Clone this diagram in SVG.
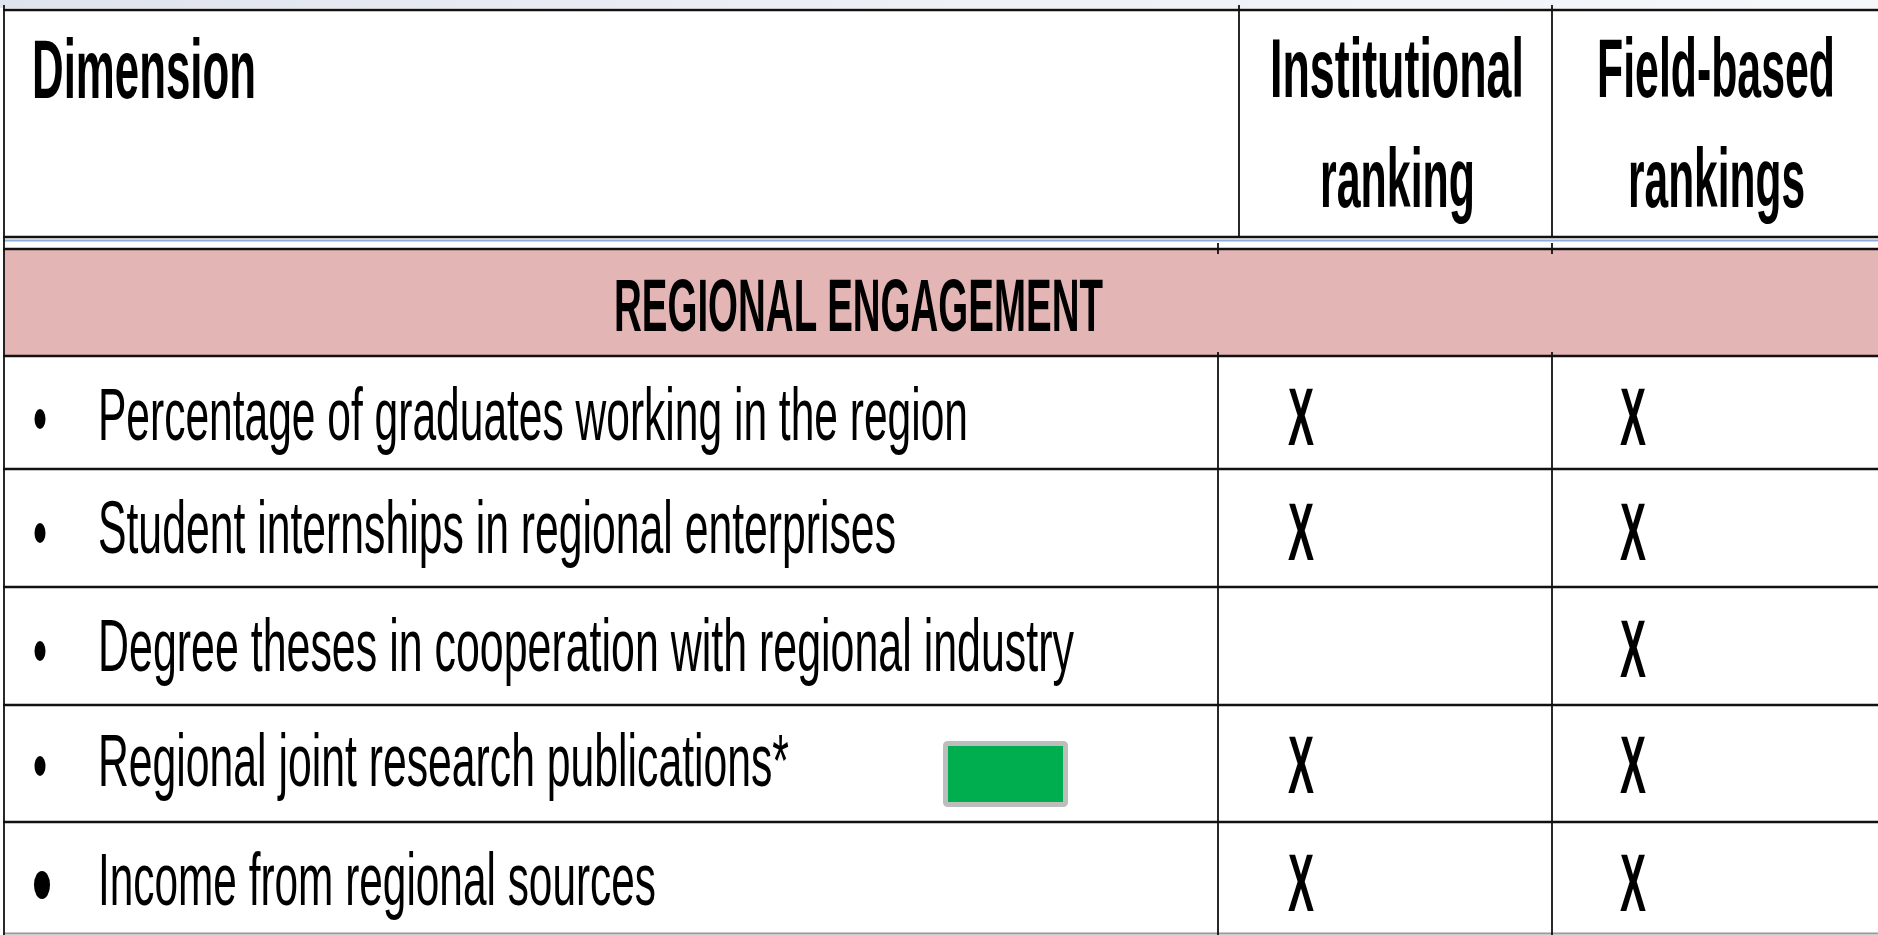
<svg xmlns="http://www.w3.org/2000/svg" width="1878" height="935" viewBox="0 0 1878 935">
  <defs>
    <linearGradient id="topfade" x1="0" y1="0" x2="1" y2="0">
      <stop offset="0" stop-color="#dfe3ee"/>
      <stop offset="0.5" stop-color="#eef0f6"/>
      <stop offset="1" stop-color="#f6f7fb"/>
    </linearGradient>
    <style>
      text { font-family: "Liberation Sans", Arial, sans-serif; fill: #000; }
      .hd { font-weight: bold; font-size: 50px; }
      .band { font-weight: bold; font-size: 46px; }
      .body { font-size: 46px; }
      .mark { font-weight: bold; font-size: 50px; }
      .rule { stroke: #111; stroke-width: 2.5; fill: none; }
      .vrule { stroke: #111; stroke-width: 1.8; fill: none; }
      .bul { fill: #000; }
    </style>
  </defs>

  <rect x="0" y="0" width="1878" height="935" fill="#ffffff"/>
  <rect x="0" y="0" width="1878" height="8" fill="url(#topfade)"/>

  <!-- Band -->
  <g id="band">
    <rect x="3" y="249" width="1875" height="107" fill="#e4b5b5"/>
    <text class="band" transform="translate(614,331) scale(1,1.6)" x="0" y="0" textLength="489" lengthAdjust="spacingAndGlyphs">REGIONAL ENGAGEMENT</text>
  </g>

  <!-- Grid lines (connectors) -->
  <g id="connectors">
    <line class="rule" x1="3" y1="10" x2="1878" y2="10"/>
    <line class="rule" x1="3" y1="237" x2="1878" y2="237"/>
    <line x1="3" y1="240.5" x2="1878" y2="240.5" stroke="#8eaee0" stroke-width="2"/>
    <line class="rule" x1="3" y1="249" x2="1878" y2="249"/>
    <line class="rule" x1="3" y1="356" x2="1878" y2="356"/>
    <line class="rule" x1="3" y1="469" x2="1878" y2="469"/>
    <line class="rule" x1="3" y1="587" x2="1878" y2="587"/>
    <line class="rule" x1="3" y1="705" x2="1878" y2="705"/>
    <line class="rule" x1="3" y1="822" x2="1878" y2="822"/>
    <line x1="3" y1="933.5" x2="1878" y2="933.5" stroke="#9a9a9a" stroke-width="2"/>
    <line class="vrule" x1="4" y1="5" x2="4" y2="935"/>
    <line class="vrule" x1="1239" y1="5" x2="1239" y2="237"/>
    <line class="vrule" x1="1552" y1="5" x2="1552" y2="237"/>
    <line class="vrule" x1="1218" y1="243" x2="1218" y2="254"/>
    <line class="vrule" x1="1552" y1="243" x2="1552" y2="254"/>
    <line class="vrule" x1="1218" y1="352" x2="1218" y2="356"/>
    <line class="vrule" x1="1552" y1="352" x2="1552" y2="356"/>
    <line class="vrule" x1="1218" y1="356" x2="1218" y2="935"/>
    <line class="vrule" x1="1552" y1="356" x2="1552" y2="935"/>
  </g>

  <!-- Header -->
  <g id="hdr-dimension">
    <text class="hd" transform="translate(32,98) scale(1,1.66)" x="0" y="0" textLength="224" lengthAdjust="spacingAndGlyphs">Dimension</text>
  </g>
  <g id="hdr-institutional">
    <text class="hd" transform="translate(1270,97) scale(1,1.66)" x="0" y="0" textLength="254" lengthAdjust="spacingAndGlyphs">Institutional</text>
    <text class="hd" transform="translate(1320,207) scale(1,1.66)" x="0" y="0" textLength="155" lengthAdjust="spacingAndGlyphs">ranking</text>
  </g>
  <g id="hdr-field">
    <text class="hd" transform="translate(1597,97) scale(1,1.66)" x="0" y="0" textLength="238" lengthAdjust="spacingAndGlyphs">Field-based</text>
    <text class="hd" transform="translate(1628,207) scale(1,1.66)" x="0" y="0" textLength="177" lengthAdjust="spacingAndGlyphs">rankings</text>
  </g>

  <!-- Rows -->
  <g id="row1">
    <ellipse class="bul" cx="40" cy="419" rx="5.5" ry="10"/>
    <text class="body" transform="translate(98,440) scale(1,1.6)" x="0" y="0" textLength="870" lengthAdjust="spacingAndGlyphs">Percentage of graduates working in the region</text>
    <text class="mark" transform="translate(1288,445) scale(1,1.62)" x="0" y="0" textLength="26" lengthAdjust="spacingAndGlyphs">X</text>
    <text class="mark" transform="translate(1620,445) scale(1,1.62)" x="0" y="0" textLength="26" lengthAdjust="spacingAndGlyphs">X</text>
  </g>
  <g id="row2">
    <ellipse class="bul" cx="40" cy="533" rx="5.5" ry="10"/>
    <text class="body" transform="translate(98,553) scale(1,1.6)" x="0" y="0" textLength="798" lengthAdjust="spacingAndGlyphs">Student internships in regional enterprises</text>
    <text class="mark" transform="translate(1288,560) scale(1,1.62)" x="0" y="0" textLength="26" lengthAdjust="spacingAndGlyphs">X</text>
    <text class="mark" transform="translate(1620,560) scale(1,1.62)" x="0" y="0" textLength="26" lengthAdjust="spacingAndGlyphs">X</text>
  </g>
  <g id="row3">
    <ellipse class="bul" cx="40" cy="651" rx="5.5" ry="10"/>
    <text class="body" transform="translate(98,671) scale(1,1.6)" x="0" y="0" textLength="976" lengthAdjust="spacingAndGlyphs">Degree theses in cooperation with regional industry</text>
    <text class="mark" transform="translate(1620,677) scale(1,1.62)" x="0" y="0" textLength="26" lengthAdjust="spacingAndGlyphs">X</text>
  </g>
  <g id="row4">
    <ellipse class="bul" cx="40" cy="766" rx="5.5" ry="10"/>
    <text class="body" transform="translate(98,786) scale(1,1.6)" x="0" y="0" textLength="691" lengthAdjust="spacingAndGlyphs">Regional joint research publications*</text>
    <rect x="945.5" y="743.5" width="120" height="61" rx="2" fill="#00ae4f" stroke="#bdbdbd" stroke-width="5"/>
    <text class="mark" transform="translate(1288,793) scale(1,1.62)" x="0" y="0" textLength="26" lengthAdjust="spacingAndGlyphs">X</text>
    <text class="mark" transform="translate(1620,793) scale(1,1.62)" x="0" y="0" textLength="26" lengthAdjust="spacingAndGlyphs">X</text>
  </g>
  <g id="row5">
    <ellipse class="bul" cx="42" cy="885" rx="8" ry="14"/>
    <text class="body" transform="translate(98,905) scale(1,1.6)" x="0" y="0" textLength="558" lengthAdjust="spacingAndGlyphs">Income from regional sources</text>
    <text class="mark" transform="translate(1288,911) scale(1,1.62)" x="0" y="0" textLength="26" lengthAdjust="spacingAndGlyphs">X</text>
    <text class="mark" transform="translate(1620,911) scale(1,1.62)" x="0" y="0" textLength="26" lengthAdjust="spacingAndGlyphs">X</text>
  </g>
</svg>
